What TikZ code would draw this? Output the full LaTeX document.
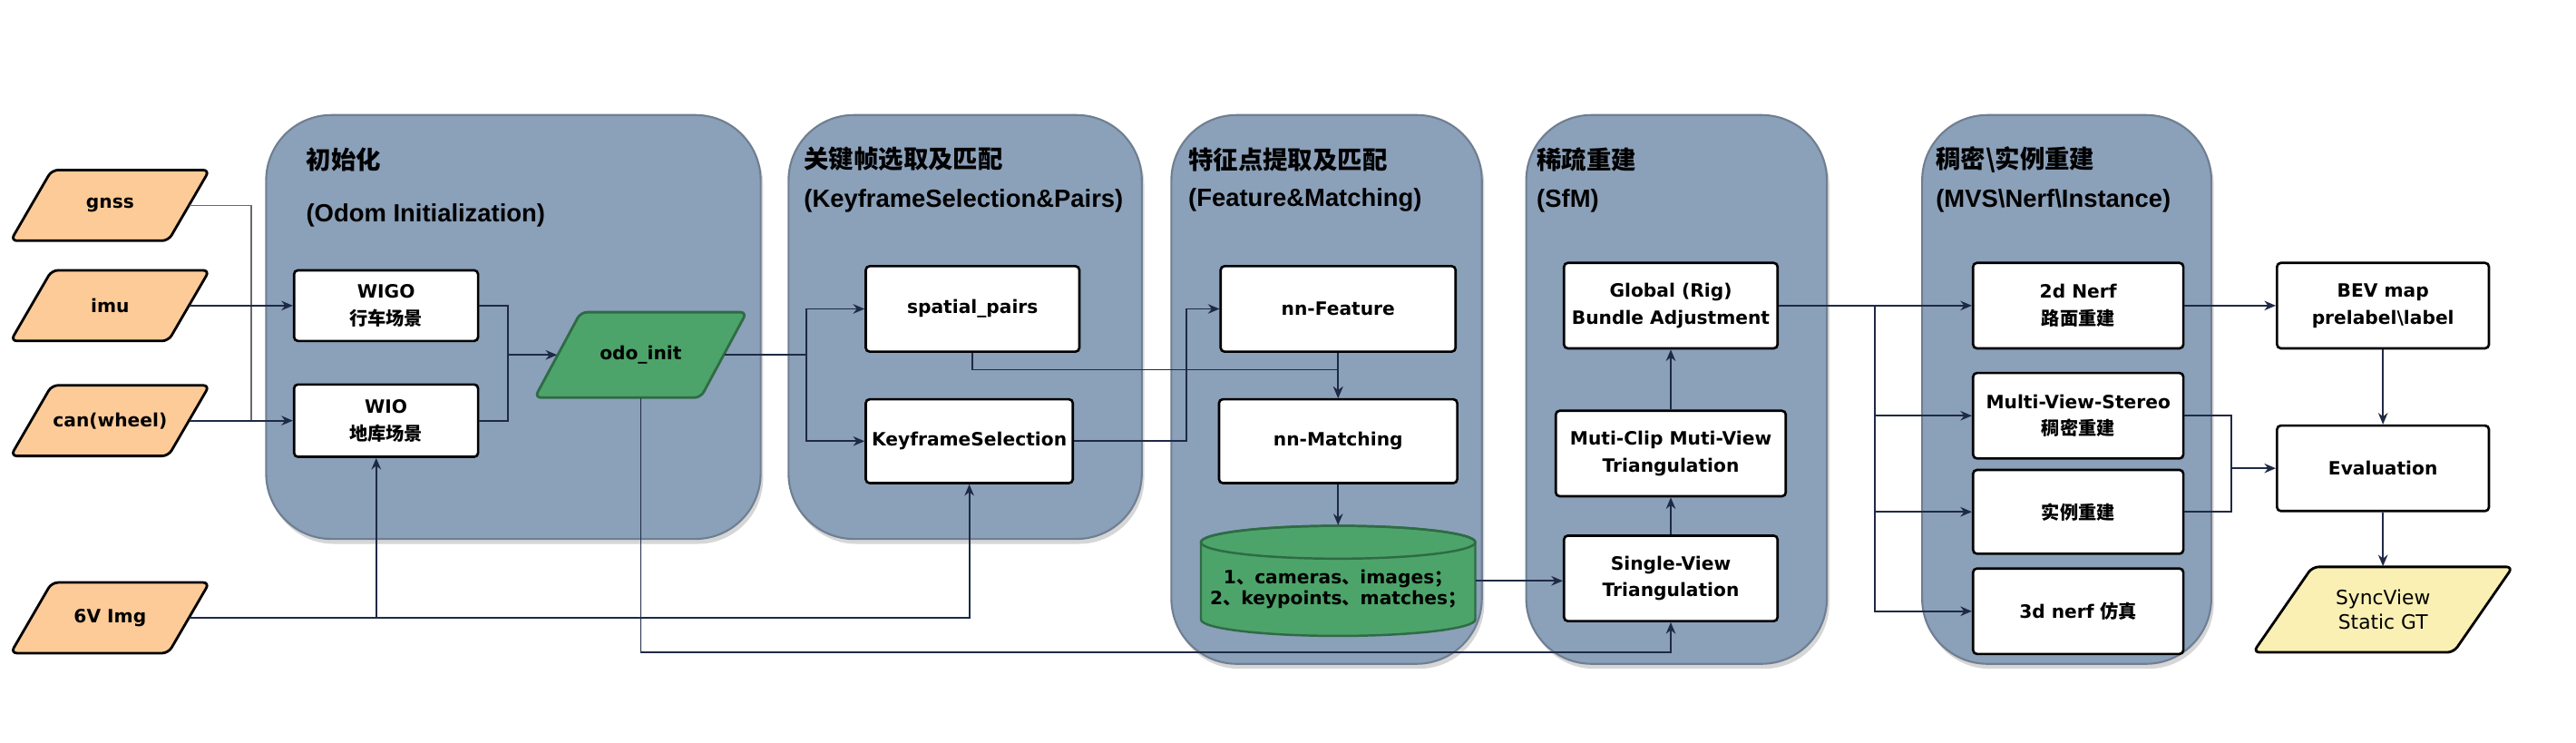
\documentclass[tikz,border=0pt]{standalone}
\usepackage{fontspec}
\setmainfont{DejaVu Sans}
\newfontfamily\cjk{Noto Sans CJK SC}
\newfontfamily\lib{Liberation Sans}
\usetikzlibrary{arrows.meta}
\def\myu{0.01811cm}
\definecolor{panelfill}{HTML}{8BA0B9}
\definecolor{paneledge}{HTML}{6F7F92}
\definecolor{peach}{HTML}{FDCB98}
\definecolor{gfill}{HTML}{4CA46A}
\definecolor{gedge}{HTML}{2F6B45}
\definecolor{yfill}{HTML}{FAF0B4}
\definecolor{linecol}{HTML}{1E2A45}
\definecolor{graycol}{HTML}{6A6A6A}
\newcommand\bx{\fontsize{5.75}{8.5}\selectfont\bfseries}
\newcommand\syf{\fontsize{6.2}{7.6}\selectfont}
\newcommand\ttlc{\cjk\fontsize{7.8}{9}\selectfont\bfseries}
\newcommand\ttll{\lib\fontsize{7.8}{9}\selectfont\bfseries}
\newcommand\mypanel[4]{%
  \fill[black,opacity=0.16,rounded corners=0.72cm] (#1+1.5,#2+3) rectangle (#3+1.5,#4+3);
  \draw[panel] (#1,#2) rectangle (#3,#4);}
% parallelogram: name, x, y, total width, height, slant offset, path style, font, text
\newcommand\para[9]{%
  \filldraw[line width=0.8pt, rounded corners=2pt, #7]
    (#2-#4/2,#3+#5/2) -- (#2+#4/2-#6,#3+#5/2) -- (#2+#4/2,#3-#5/2) -- (#2-#4/2+#6,#3-#5/2) -- cycle;
  \node[inner sep=0pt, wh={(#4-#6)}{#5}, align=center, font=#8] (#1) at (#2,#3) {#9};}
\tikzset{
  panel/.style={fill=panelfill, draw=paneledge, line width=0.6pt, rounded corners=0.72cm},
  wh/.style 2 args={minimum width=#1*\myu, minimum height=#2*\myu},
  box/.style={draw=black, fill=white, line width=0.75pt, rounded corners=1.2pt,
    inner sep=0pt, align=center, font=\bx},
  conn/.style={draw=linecol, line width=0.5pt},
  arr/.style={conn, -{Stealth[length=3.6pt,width=3pt]}},
  ttl/.style={anchor=west, inner sep=0pt, text=black},
}
\begin{document}
\begin{tikzpicture}[x=\myu, y=-\myu]
\useasboundingbox (0,0) rectangle (1568,452);
% panels
\mypanel{162}{70}{463}{328}
\mypanel{480}{70}{695}{328}
\mypanel{713}{70}{902}{404}
\mypanel{929}{70}{1112}{404}
\mypanel{1170}{70}{1346}{404}
% titles
\node[ttl, font=\ttlc] (t1a) at (186,97) {初始化};
\node[ttl, font=\ttll] (t1b) at (186,131) {(Odom Initialization)};
\node[ttl, font=\ttlc] (t2a) at (489,97) {关键帧选取及匹配};
\node[ttl, font=\ttll] (t2b) at (489,122) {(KeyframeSelection\&Pairs)};
\node[ttl, font=\ttlc] (t3a) at (723,97) {特征点提取及匹配};
\node[ttl, font=\ttll] (t3b) at (723,122) {(Feature\&Matching)};
\node[ttl, font=\ttlc] (t4a) at (935,97) {稀疏重建};
\node[ttl, font=\ttll] (t4b) at (935,122) {(SfM)};
\node[ttl, font=\ttlc] (t5a) at (1178,97) {稠密\textbackslash 实例重建};
\node[ttl, font=\ttll] (t5b) at (1178,122) {(MVS\textbackslash Nerf\textbackslash Instance)};
% inputs
\para{gnss}{67}{125}{121}{43}{25}{fill=peach, draw=black}{\bx}{gnss}
\para{imu}{67}{186}{121}{43}{25}{fill=peach, draw=black}{\bx}{imu}
\para{can}{67}{256}{121}{43}{25}{fill=peach, draw=black}{\bx}{can(wheel)}
\para{img}{67}{376}{121}{43}{25}{fill=peach, draw=black}{\bx}{6V Img}
% panel 1
\node[box, wh={112}{43}] (wigo) at (235,186) {WIGO\\{\cjk 行车场景}};
\node[box, wh={112}{44}] (wio) at (235,256) {WIO\\{\cjk 地库场景}};
\para{odo}{390}{216}{129}{52}{28}{fill=gfill, draw=gedge}{\bx}{odo\_init}
% panel 2
\node[box, wh={130}{52}] (sp) at (592,188) {spatial\_pairs};
\node[box, wh={126}{51}] (ks) at (590,268.5) {KeyframeSelection};
% panel 3
\node[box, wh={143}{52}] (nnf) at (814.5,188) {nn-Feature};
\node[box, wh={145}{51}] (nnm) at (814.5,268.5) {nn-Matching};
\node[inner sep=0pt, wh={167}{67}] (db) at (814.5,353.5) {};
\filldraw[fill=gfill, draw=gedge, line width=0.7pt] (731,330) -- (731,377)
  arc[start angle=180, end angle=360, x radius=83.5*\myu, y radius=10*\myu] -- (898,330)
  arc[start angle=0, end angle=180, x radius=83.5*\myu, y radius=10*\myu] -- cycle;
\draw[gedge, line width=0.7pt] (814.5,330) ellipse[x radius=83.5*\myu, y radius=10*\myu];
\node[inner sep=0pt, align=center, font=\fontsize{5.75}{6.6}\selectfont\bfseries] (dbt) at (814.5,358.5)
  {1{\cjk 、}cameras{\cjk 、}images{\cjk ；}\\2{\cjk 、}keypoints{\cjk 、}matches{\cjk ；}};
% panel 4
\node[box, wh={130}{52}] (ga) at (1017,186) {Global (Rig)\\Bundle Adjustment};
\node[box, wh={140}{52}] (mc) at (1017,276) {Muti-Clip Muti-View\\Triangulation};
\node[box, wh={130}{52}] (sv) at (1017,352) {Single-View\\Triangulation};
% panel 5
\node[box, wh={128}{52}] (nerf2d) at (1265,186) {2d Nerf\\{\cjk 路面重建}};
\node[box, wh={128}{52}] (mvs) at (1265,253) {Multi-View-Stereo\\{\cjk 稠密重建}};
\node[box, wh={128}{51}] (inst) at (1265,311.5) {{\cjk 实例重建}};
\node[box, wh={128}{52}] (nerf3d) at (1265,372) {3d nerf {\cjk 仿真}};
% right column
\node[box, wh={129}{52}] (bev) at (1450.5,186) {BEV map\\prelabel\textbackslash label};
\node[box, wh={129}{52}] (eval) at (1450.5,285) {Evaluation};
\para{sync}{1450.5}{371}{158}{52}{36}{fill=yfill, draw=black}{\syf}{SyncView\\Static GT}
% junction coordinates
\coordinate (jw) at (309,216);
\coordinate (jo) at (491,216);
\coordinate (j6) at (229,376);
\coordinate (jb) at (390,397);
\coordinate (js) at (814.5,225);
\coordinate (jk) at (722,0);
\coordinate (jg) at (1141,186);
\coordinate (jm) at (1358,285);
\coordinate (jn) at (153,125);
% connectors
\draw[conn, draw=graycol] (gnss.east) -- (jn) -- (jn |- can.east);
\draw[arr] (imu.east) -- (wigo.west);
\draw[arr] (can.east) -- (wio.west);
\draw[conn] (wigo.east) -| (jw);
\draw[conn] (wio.east) -| (jw);
\draw[arr] (jw) -- (odo.west);
\draw[conn] (odo.east) -- (jo);
\draw[arr] (jo) |- (sp.west);
\draw[arr] (jo) |- (ks.west);
\draw[arr] (img.east) -| (ks.south);
\draw[arr] (j6) -- (j6 |- wio.south);
\draw[arr] (odo.south) -- (jb) -| (sv.south);
\draw[arr] (sp.south) |- (js) -- (nnm.north);
\draw[arr] (nnf.south) -- (nnm.north);
\draw[arr] (ks.east) -- (ks.east -| jk) |- (nnf.west);
\draw[arr] (nnm.south) -- (db.north);
\draw[arr] (db.east) -- (db.east -| sv.west);
\draw[arr] (sv.north) -- (mc.south);
\draw[arr] (mc.north) -- (ga.south);
\draw[arr] (ga.east) -- (nerf2d.west);
\draw[arr] (jg) |- (mvs.west);
\draw[arr] (jg) |- (inst.west);
\draw[arr] (jg) |- (nerf3d.west);
\draw[arr] (nerf2d.east) -- (bev.west);
\draw[arr] (bev.south) -- (eval.north);
\draw[conn] (mvs.east) -| (jm);
\draw[conn] (inst.east) -| (jm);
\draw[arr] (jm) -- (eval.west);
\draw[arr] (eval.south) -- (sync.north);
\end{tikzpicture}
\end{document}
